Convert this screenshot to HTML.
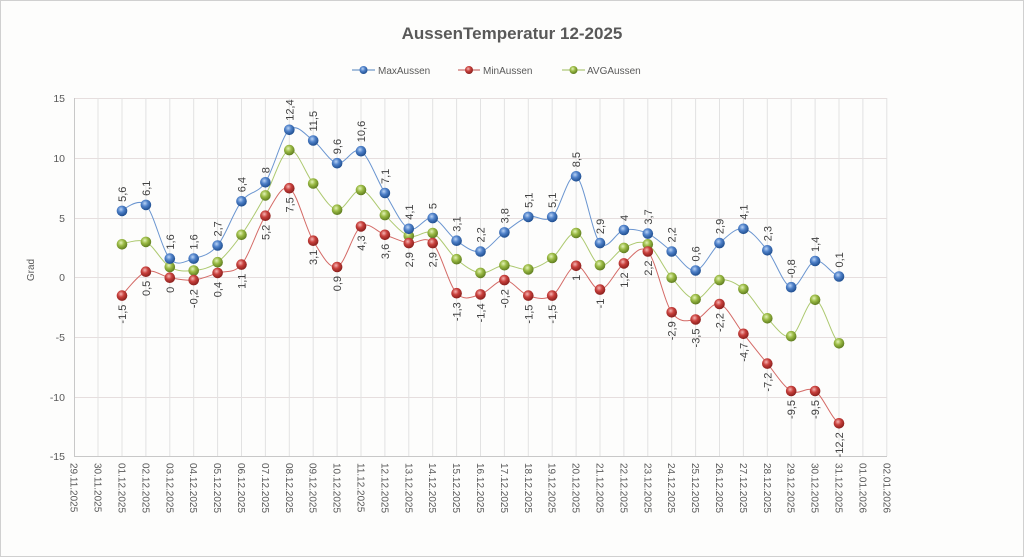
<!DOCTYPE html>
<html><head><meta charset="utf-8"><style>
html,body{margin:0;padding:0;background:#fff}
svg{display:block;font-family:"Liberation Sans",sans-serif}
</style></head><body>
<svg width="1024" height="557" viewBox="0 0 1024 557" xmlns="http://www.w3.org/2000/svg">
<defs>
<radialGradient id="gb" cx="0.4" cy="0.35" r="0.65"><stop offset="0" stop-color="#b9d3f5"/><stop offset="0.45" stop-color="#4f81c9"/><stop offset="1" stop-color="#1f4e8f"/></radialGradient>
<radialGradient id="gr" cx="0.4" cy="0.35" r="0.65"><stop offset="0" stop-color="#f5b5b3"/><stop offset="0.45" stop-color="#c9413d"/><stop offset="1" stop-color="#8a1f1c"/></radialGradient>
<radialGradient id="gg" cx="0.4" cy="0.35" r="0.65"><stop offset="0" stop-color="#e3f2b8"/><stop offset="0.45" stop-color="#9bbb45"/><stop offset="1" stop-color="#5f7d1f"/></radialGradient>
</defs>
<rect x="0.5" y="0.5" width="1023" height="556" fill="#fdfdfc" stroke="#d0d0d0"/>
<text x="512" y="39" text-anchor="middle" font-size="17" font-weight="bold" fill="#595959">AussenTemperatur 12-2025</text>
<!-- legend -->
<g font-size="10" fill="#595959">
<line x1="352" y1="70" x2="375" y2="70" stroke="#4f81bd"/><circle cx="363.5" cy="70" r="4" fill="url(#gb)"/><text x="378" y="74">MaxAussen</text>
<line x1="458" y1="70" x2="480" y2="70" stroke="#c0504d"/><circle cx="469" cy="70" r="4" fill="url(#gr)"/><text x="483" y="74">MinAussen</text>
<line x1="562" y1="70" x2="585" y2="70" stroke="#9bbb59"/><circle cx="573.5" cy="70" r="4" fill="url(#gg)"/><text x="587" y="74">AVGAussen</text>
</g>
<!-- grid -->
<g stroke="#e6dede" stroke-width="1">
<line x1="74" y1="98.5" x2="887" y2="98.5"/><line x1="74" y1="158.5" x2="887" y2="158.5"/><line x1="74" y1="218.5" x2="887" y2="218.5"/><line x1="74" y1="277.5" x2="887" y2="277.5"/><line x1="74" y1="337.5" x2="887" y2="337.5"/><line x1="74" y1="397.5" x2="887" y2="397.5"/>
</g>
<g stroke="#e2e2e2" stroke-width="1">
<line x1="98" y1="98" x2="98" y2="456"/><line x1="122" y1="98" x2="122" y2="456"/><line x1="145.9" y1="98" x2="145.9" y2="456"/><line x1="169.8" y1="98" x2="169.8" y2="456"/><line x1="193.7" y1="98" x2="193.7" y2="456"/><line x1="217.6" y1="98" x2="217.6" y2="456"/><line x1="241.5" y1="98" x2="241.5" y2="456"/><line x1="265.4" y1="98" x2="265.4" y2="456"/><line x1="289.3" y1="98" x2="289.3" y2="456"/><line x1="313.2" y1="98" x2="313.2" y2="456"/><line x1="337.1" y1="98" x2="337.1" y2="456"/><line x1="361" y1="98" x2="361" y2="456"/><line x1="384.9" y1="98" x2="384.9" y2="456"/><line x1="408.8" y1="98" x2="408.8" y2="456"/><line x1="432.7" y1="98" x2="432.7" y2="456"/><line x1="456.6" y1="98" x2="456.6" y2="456"/><line x1="480.5" y1="98" x2="480.5" y2="456"/><line x1="504.4" y1="98" x2="504.4" y2="456"/><line x1="528.3" y1="98" x2="528.3" y2="456"/><line x1="552.2" y1="98" x2="552.2" y2="456"/><line x1="576.1" y1="98" x2="576.1" y2="456"/><line x1="600" y1="98" x2="600" y2="456"/><line x1="623.9" y1="98" x2="623.9" y2="456"/><line x1="647.8" y1="98" x2="647.8" y2="456"/><line x1="671.7" y1="98" x2="671.7" y2="456"/><line x1="695.6" y1="98" x2="695.6" y2="456"/><line x1="719.5" y1="98" x2="719.5" y2="456"/><line x1="743.4" y1="98" x2="743.4" y2="456"/><line x1="767.3" y1="98" x2="767.3" y2="456"/><line x1="791.2" y1="98" x2="791.2" y2="456"/><line x1="815.1" y1="98" x2="815.1" y2="456"/><line x1="839" y1="98" x2="839" y2="456"/><line x1="862.9" y1="98" x2="862.9" y2="456"/><line x1="886.8" y1="98" x2="886.8" y2="456"/>
</g>
<line x1="74.5" y1="98" x2="74.5" y2="456.5" stroke="#c8c8c8"/>
<line x1="74" y1="456.5" x2="887" y2="456.5" stroke="#c8c8c8"/>
<!-- y ticks -->
<g font-size="10.5" fill="#595959" text-anchor="end">
<text x="65" y="102">15</text><text x="65" y="162">10</text><text x="65" y="222">5</text><text x="65" y="281">0</text><text x="65" y="341">-5</text><text x="65" y="401">-10</text><text x="65" y="460">-15</text>
</g>
<text transform="translate(34,270) rotate(-90)" font-size="10" fill="#595959" text-anchor="middle">Grad</text>
<!-- x ticks -->
<g font-size="10" fill="#595959">
<text transform="translate(70.5,463) rotate(90)">29.11.2025</text>
<text transform="translate(94.5,463) rotate(90)">30.11.2025</text>
<text transform="translate(118.5,463) rotate(90)">01.12.2025</text>
<text transform="translate(142.4,463) rotate(90)">02.12.2025</text>
<text transform="translate(166.3,463) rotate(90)">03.12.2025</text>
<text transform="translate(190.2,463) rotate(90)">04.12.2025</text>
<text transform="translate(214.1,463) rotate(90)">05.12.2025</text>
<text transform="translate(238,463) rotate(90)">06.12.2025</text>
<text transform="translate(261.9,463) rotate(90)">07.12.2025</text>
<text transform="translate(285.8,463) rotate(90)">08.12.2025</text>
<text transform="translate(309.7,463) rotate(90)">09.12.2025</text>
<text transform="translate(333.6,463) rotate(90)">10.12.2025</text>
<text transform="translate(357.5,463) rotate(90)">11.12.2025</text>
<text transform="translate(381.4,463) rotate(90)">12.12.2025</text>
<text transform="translate(405.3,463) rotate(90)">13.12.2025</text>
<text transform="translate(429.2,463) rotate(90)">14.12.2025</text>
<text transform="translate(453.1,463) rotate(90)">15.12.2025</text>
<text transform="translate(477,463) rotate(90)">16.12.2025</text>
<text transform="translate(500.9,463) rotate(90)">17.12.2025</text>
<text transform="translate(524.8,463) rotate(90)">18.12.2025</text>
<text transform="translate(548.7,463) rotate(90)">19.12.2025</text>
<text transform="translate(572.6,463) rotate(90)">20.12.2025</text>
<text transform="translate(596.5,463) rotate(90)">21.12.2025</text>
<text transform="translate(620.4,463) rotate(90)">22.12.2025</text>
<text transform="translate(644.3,463) rotate(90)">23.12.2025</text>
<text transform="translate(668.2,463) rotate(90)">24.12.2025</text>
<text transform="translate(692.1,463) rotate(90)">25.12.2025</text>
<text transform="translate(716,463) rotate(90)">26.12.2025</text>
<text transform="translate(739.9,463) rotate(90)">27.12.2025</text>
<text transform="translate(763.8,463) rotate(90)">28.12.2025</text>
<text transform="translate(787.7,463) rotate(90)">29.12.2025</text>
<text transform="translate(811.6,463) rotate(90)">30.12.2025</text>
<text transform="translate(835.5,463) rotate(90)">31.12.2025</text>
<text transform="translate(859.4,463) rotate(90)">01.01.2026</text>
<text transform="translate(883.3,463) rotate(90)">02.01.2026</text>
</g>
<!-- curves -->
<g transform="translate(122,277.7) scale(23.9,-11.93)" fill="none" stroke-width="1" vector-effect="non-scaling-stroke">
<path vector-effect="non-scaling-stroke" stroke="#6a95d0" d="M0,5.6 S0.667,6.767 1,6.1 S1.667,2.35 2,1.6 S2.667,1.417 3,1.6 S3.667,1.9 4,2.7 S4.667,5.517 5,6.4 S5.667,7 6,8 S6.667,11.817 7,12.4 S7.667,11.967 8,11.5 S8.667,9.75 9,9.6 S9.667,11.017 10,10.6 S10.667,8.183 11,7.1 S11.667,4.45 12,4.1 S12.667,5.167 13,5 S13.667,3.567 14,3.1 S14.667,2.083 15,2.2 S15.667,3.317 16,3.8 S16.667,4.883 17,5.1 S17.667,4.533 18,5.1 S18.667,8.867 19,8.5 S19.667,3.65 20,2.9 S20.667,3.867 21,4 S21.667,4 22,3.7 S22.667,2.717 23,2.2 S23.667,0.483 24,0.6 S24.667,2.317 25,2.9 S25.667,4.2 26,4.1 S26.667,3.117 27,2.3 S27.667,-0.65 28,-0.8 S28.667,1.25 29,1.4 S29.667,0.317 30,0.1"/>
<path vector-effect="non-scaling-stroke" stroke="#d46a66" d="M0,-1.5 S0.667,0.25 1,0.5 S1.667,0.117 2,0 S2.667,-0.267 3,-0.2 S3.667,0.183 4,0.4 S4.667,0.3 5,1.1 S5.667,4.133 6,5.2 S6.667,7.85 7,7.5 S7.667,4.2 8,3.1 S8.667,0.7 9,0.9 S9.667,3.85 10,4.3 S10.667,3.833 11,3.6 S11.667,3.017 12,2.9 S12.667,3.6 13,2.9 S13.667,-0.583 14,-1.3 S14.667,-1.583 15,-1.4 S15.667,-0.183 16,-0.2 S16.667,-1.283 17,-1.5 S17.667,-1.917 18,-1.5 S18.667,0.917 19,1 S19.667,-1.033 20,-1 S20.667,0.667 21,1.2 S21.667,2.883 22,2.2 S22.667,-1.95 23,-2.9 S23.667,-3.617 24,-3.5 S24.667,-2 25,-2.2 S25.667,-3.867 26,-4.7 S26.667,-6.4 27,-7.2 S27.667,-9.117 28,-9.5 S28.667,-9.05 29,-9.5 S29.667,-11.75 30,-12.2"/>
<path vector-effect="non-scaling-stroke" stroke="#adc970" d="M0,2.8 S0.667,3.317 1,3 S1.667,1.3 2,0.9 S2.667,0.533 3,0.6 S3.667,0.8 4,1.3 S4.667,2.667 5,3.6 S5.667,5.717 6,6.9 S6.667,10.533 7,10.7 S7.667,8.733 8,7.9 S8.667,5.792 9,5.7 S9.667,7.425 10,7.35 S10.667,5.892 11,5.25 S11.667,3.75 12,3.5 S12.667,4.075 13,3.75 S13.667,2.108 14,1.55 S14.667,0.483 15,0.4 S15.667,1 16,1.05 S16.667,0.6 17,0.7 S17.667,1.142 18,1.65 S18.667,3.85 19,3.75 S19.667,1.258 20,1.05 S20.667,2.208 21,2.5 S21.667,3.217 22,2.8 S22.667,0.767 23,0 S23.667,-1.767 24,-1.8 S24.667,-0.342 25,-0.2 S25.667,-0.417 26,-0.95 S26.667,-2.742 27,-3.4 S27.667,-5.158 28,-4.9 S28.667,-1.75 29,-1.85 S29.667,-4.892 30,-5.5"/>
</g>
<!-- markers AVG -->
<g fill="url(#gg)">
<circle cx="122" cy="244.3" r="5.3"/><circle cx="145.9" cy="241.9" r="5.3"/><circle cx="169.8" cy="267" r="5.3"/><circle cx="193.7" cy="270.5" r="5.3"/><circle cx="217.6" cy="262.2" r="5.3"/><circle cx="241.5" cy="234.8" r="5.3"/><circle cx="265.4" cy="195.4" r="5.3"/><circle cx="289.3" cy="150.1" r="5.3"/><circle cx="313.2" cy="183.5" r="5.3"/><circle cx="337.1" cy="209.7" r="5.3"/><circle cx="361" cy="190" r="5.3"/><circle cx="384.9" cy="215.1" r="5.3"/><circle cx="408.8" cy="235.9" r="5.3"/><circle cx="432.7" cy="233" r="5.3"/><circle cx="456.6" cy="259.2" r="5.3"/><circle cx="480.5" cy="272.9" r="5.3"/><circle cx="504.4" cy="265.2" r="5.3"/><circle cx="528.3" cy="269.4" r="5.3"/><circle cx="552.2" cy="258" r="5.3"/><circle cx="576.1" cy="233" r="5.3"/><circle cx="600" cy="265.2" r="5.3"/><circle cx="623.9" cy="247.9" r="5.3"/><circle cx="647.8" cy="244.3" r="5.3"/><circle cx="671.7" cy="277.7" r="5.3"/><circle cx="695.6" cy="299.2" r="5.3"/><circle cx="719.5" cy="280.1" r="5.3"/><circle cx="743.4" cy="289" r="5.3"/><circle cx="767.3" cy="318.3" r="5.3"/><circle cx="791.2" cy="336.2" r="5.3"/><circle cx="815.1" cy="299.8" r="5.3"/><circle cx="839" cy="343.3" r="5.3"/>
</g>
<!-- markers Min -->
<g fill="url(#gr)">
<circle cx="122" cy="295.6" r="5.3"/><circle cx="145.9" cy="271.7" r="5.3"/><circle cx="169.8" cy="277.7" r="5.3"/><circle cx="193.7" cy="280.1" r="5.3"/><circle cx="217.6" cy="272.9" r="5.3"/><circle cx="241.5" cy="264.6" r="5.3"/><circle cx="265.4" cy="215.7" r="5.3"/><circle cx="289.3" cy="188.2" r="5.3"/><circle cx="313.2" cy="240.7" r="5.3"/><circle cx="337.1" cy="267" r="5.3"/><circle cx="361" cy="226.4" r="5.3"/><circle cx="384.9" cy="234.8" r="5.3"/><circle cx="408.8" cy="243.1" r="5.3"/><circle cx="432.7" cy="243.1" r="5.3"/><circle cx="456.6" cy="293.2" r="5.3"/><circle cx="480.5" cy="294.4" r="5.3"/><circle cx="504.4" cy="280.1" r="5.3"/><circle cx="528.3" cy="295.6" r="5.3"/><circle cx="552.2" cy="295.6" r="5.3"/><circle cx="576.1" cy="265.8" r="5.3"/><circle cx="600" cy="289.6" r="5.3"/><circle cx="623.9" cy="263.4" r="5.3"/><circle cx="647.8" cy="251.5" r="5.3"/><circle cx="671.7" cy="312.3" r="5.3"/><circle cx="695.6" cy="319.5" r="5.3"/><circle cx="719.5" cy="304" r="5.3"/><circle cx="743.4" cy="333.8" r="5.3"/><circle cx="767.3" cy="363.6" r="5.3"/><circle cx="791.2" cy="391" r="5.3"/><circle cx="815.1" cy="391" r="5.3"/><circle cx="839" cy="423.3" r="5.3"/>
</g>
<!-- markers Max -->
<g fill="url(#gb)">
<circle cx="122" cy="210.9" r="5.3"/><circle cx="145.9" cy="204.9" r="5.3"/><circle cx="169.8" cy="258.6" r="5.3"/><circle cx="193.7" cy="258.6" r="5.3"/><circle cx="217.6" cy="245.5" r="5.3"/><circle cx="241.5" cy="201.3" r="5.3"/><circle cx="265.4" cy="182.3" r="5.3"/><circle cx="289.3" cy="129.8" r="5.3"/><circle cx="313.2" cy="140.5" r="5.3"/><circle cx="337.1" cy="163.2" r="5.3"/><circle cx="361" cy="151.2" r="5.3"/><circle cx="384.9" cy="193" r="5.3"/><circle cx="408.8" cy="228.8" r="5.3"/><circle cx="432.7" cy="218.1" r="5.3"/><circle cx="456.6" cy="240.7" r="5.3"/><circle cx="480.5" cy="251.5" r="5.3"/><circle cx="504.4" cy="232.4" r="5.3"/><circle cx="528.3" cy="216.9" r="5.3"/><circle cx="552.2" cy="216.9" r="5.3"/><circle cx="576.1" cy="176.3" r="5.3"/><circle cx="600" cy="243.1" r="5.3"/><circle cx="623.9" cy="230" r="5.3"/><circle cx="647.8" cy="233.6" r="5.3"/><circle cx="671.7" cy="251.5" r="5.3"/><circle cx="695.6" cy="270.5" r="5.3"/><circle cx="719.5" cy="243.1" r="5.3"/><circle cx="743.4" cy="228.8" r="5.3"/><circle cx="767.3" cy="250.3" r="5.3"/><circle cx="791.2" cy="287.2" r="5.3"/><circle cx="815.1" cy="261" r="5.3"/><circle cx="839" cy="276.5" r="5.3"/>
</g>
<!-- Max labels -->
<g font-size="11" fill="#404040">
<text transform="translate(126,201.9) rotate(-90)">5,6</text>
<text transform="translate(149.9,195.9) rotate(-90)">6,1</text>
<text transform="translate(173.8,249.6) rotate(-90)">1,6</text>
<text transform="translate(197.7,249.6) rotate(-90)">1,6</text>
<text transform="translate(221.6,236.5) rotate(-90)">2,7</text>
<text transform="translate(245.5,192.3) rotate(-90)">6,4</text>
<text transform="translate(269.4,173.3) rotate(-90)">8</text>
<text transform="translate(293.3,120.8) rotate(-90)">12,4</text>
<text transform="translate(317.2,131.5) rotate(-90)">11,5</text>
<text transform="translate(341.1,154.2) rotate(-90)">9,6</text>
<text transform="translate(365,142.2) rotate(-90)">10,6</text>
<text transform="translate(388.9,184) rotate(-90)">7,1</text>
<text transform="translate(412.8,219.8) rotate(-90)">4,1</text>
<text transform="translate(436.7,209.1) rotate(-90)">5</text>
<text transform="translate(460.6,231.7) rotate(-90)">3,1</text>
<text transform="translate(484.5,242.5) rotate(-90)">2,2</text>
<text transform="translate(508.4,223.4) rotate(-90)">3,8</text>
<text transform="translate(532.3,207.9) rotate(-90)">5,1</text>
<text transform="translate(556.2,207.9) rotate(-90)">5,1</text>
<text transform="translate(580.1,167.3) rotate(-90)">8,5</text>
<text transform="translate(604,234.1) rotate(-90)">2,9</text>
<text transform="translate(627.9,221) rotate(-90)">4</text>
<text transform="translate(651.8,224.6) rotate(-90)">3,7</text>
<text transform="translate(675.7,242.5) rotate(-90)">2,2</text>
<text transform="translate(699.6,261.5) rotate(-90)">0,6</text>
<text transform="translate(723.5,234.1) rotate(-90)">2,9</text>
<text transform="translate(747.4,219.8) rotate(-90)">4,1</text>
<text transform="translate(771.3,241.3) rotate(-90)">2,3</text>
<text transform="translate(795.2,278.2) rotate(-90)">-0,8</text>
<text transform="translate(819.1,252) rotate(-90)">1,4</text>
<text transform="translate(843,267.5) rotate(-90)">0,1</text>
</g>
<!-- Min labels -->
<g font-size="11" fill="#404040" text-anchor="end">
<text transform="translate(126,304.6) rotate(-90)">-1,5</text>
<text transform="translate(149.9,280.7) rotate(-90)">0,5</text>
<text transform="translate(173.8,286.7) rotate(-90)">0</text>
<text transform="translate(197.7,289.1) rotate(-90)">-0,2</text>
<text transform="translate(221.6,281.9) rotate(-90)">0,4</text>
<text transform="translate(245.5,273.6) rotate(-90)">1,1</text>
<text transform="translate(269.4,224.7) rotate(-90)">5,2</text>
<text transform="translate(293.3,197.2) rotate(-90)">7,5</text>
<text transform="translate(317.2,249.7) rotate(-90)">3,1</text>
<text transform="translate(341.1,276) rotate(-90)">0,9</text>
<text transform="translate(365,235.4) rotate(-90)">4,3</text>
<text transform="translate(388.9,243.8) rotate(-90)">3,6</text>
<text transform="translate(412.8,252.1) rotate(-90)">2,9</text>
<text transform="translate(436.7,252.1) rotate(-90)">2,9</text>
<text transform="translate(460.6,302.2) rotate(-90)">-1,3</text>
<text transform="translate(484.5,303.4) rotate(-90)">-1,4</text>
<text transform="translate(508.4,289.1) rotate(-90)">-0,2</text>
<text transform="translate(532.3,304.6) rotate(-90)">-1,5</text>
<text transform="translate(556.2,304.6) rotate(-90)">-1,5</text>
<text transform="translate(580.1,274.8) rotate(-90)">1</text>
<text transform="translate(604,298.6) rotate(-90)">-1</text>
<text transform="translate(627.9,272.4) rotate(-90)">1,2</text>
<text transform="translate(651.8,260.5) rotate(-90)">2,2</text>
<text transform="translate(675.7,321.3) rotate(-90)">-2,9</text>
<text transform="translate(699.6,328.5) rotate(-90)">-3,5</text>
<text transform="translate(723.5,313) rotate(-90)">-2,2</text>
<text transform="translate(747.4,342.8) rotate(-90)">-4,7</text>
<text transform="translate(771.3,372.6) rotate(-90)">-7,2</text>
<text transform="translate(795.2,400) rotate(-90)">-9,5</text>
<text transform="translate(819.1,400) rotate(-90)">-9,5</text>
<text transform="translate(843,432.3) rotate(-90)">-12,2</text>
</g>
</svg>
</body></html>
